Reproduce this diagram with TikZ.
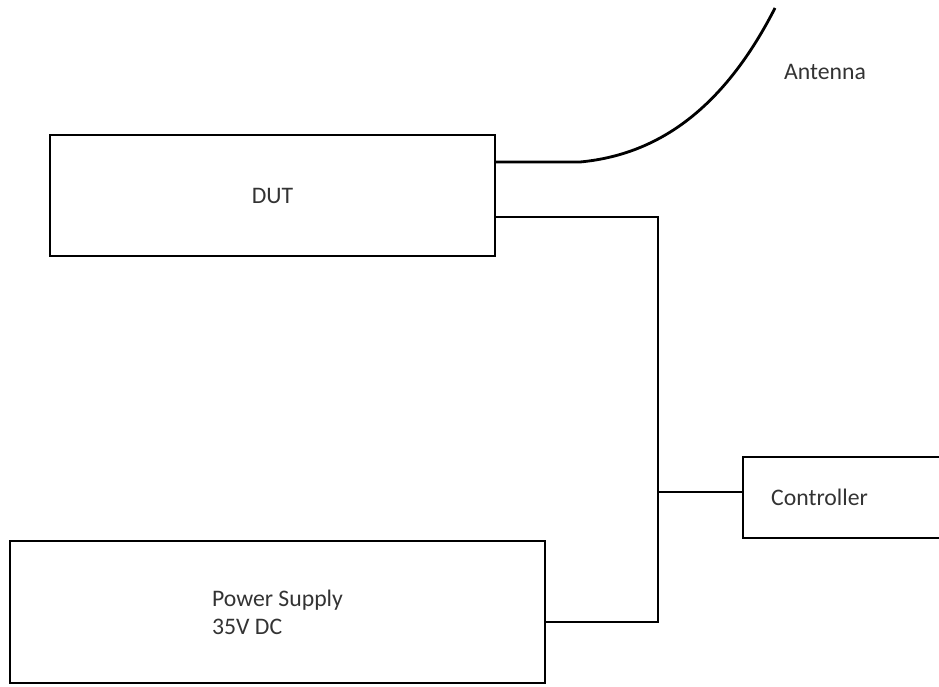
\documentclass[tikz,border=0pt]{standalone}
\usepackage{fontspec}
\setmainfont{Carlito}
\tikzset{
  block/.style={draw, line width=1.4pt, inner sep=0pt},
  wire/.style={line width=1.3pt},
  label/.style={text=black!80, font=\fontsize{13.5}{16}\selectfont}
}
\begin{document}
\begin{tikzpicture}[x=0.02cm, y=-0.02cm]
    % Rahmen
    \useasboundingbox (0,0) rectangle (939,686);
    \clip (0,0) rectangle (939,686);

    % Bloecke
    \node[block, label, minimum width=8.9cm, minimum height=2.42cm] (dut) at (272.5,195.5) {DUT};
    \node[block, label, minimum width=10.7cm, minimum height=2.84cm, align=left] (ps) at (277.5,612) {Power Supply\\35V DC};
    \node[block, label, anchor=north west, minimum height=1.62cm, text width=3.48cm, inner xsep=0.56cm, align=left] (ctrl) at (742,456) {Controller};

    % Antenne
    \coordinate (anttip) at (775,8);
    \coordinate (antbend) at (580,162);
    \draw[line width=1.6pt] ([yshift=0.67cm]dut.east) -- (antbend) .. controls (655,155) and (722,112) .. (anttip);
    \node[label] (antlabel) at (825,72) {Antenna};

    % Leitungen
    \coordinate (tap) at (658,492);
    \draw[wire] ([yshift=-0.43cm]dut.east) -| (tap) |- ([yshift=-0.2cm]ps.east);
    \draw[wire] (tap) -- (tap -| ctrl.west);
\end{tikzpicture}
\end{document}
